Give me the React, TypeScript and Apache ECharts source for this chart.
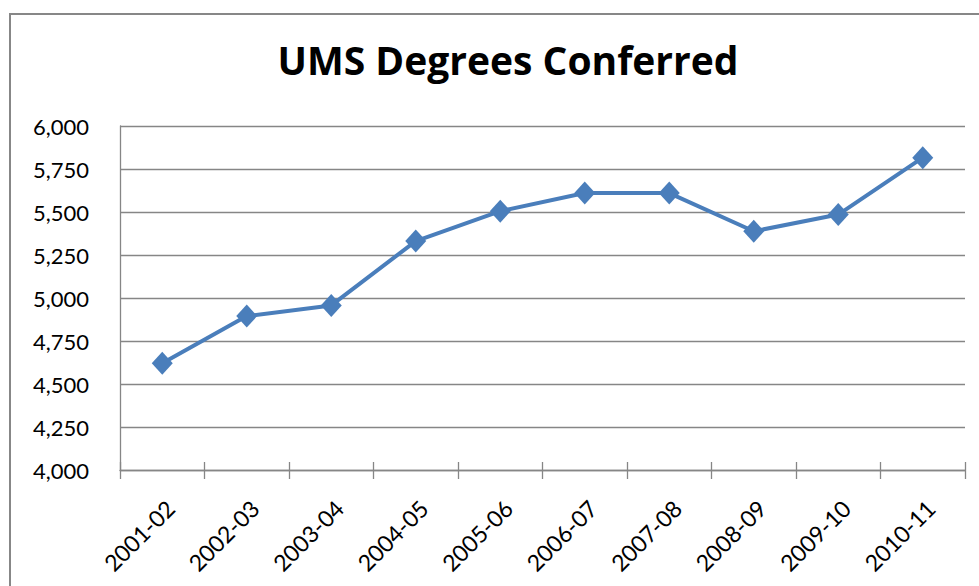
import React, { useEffect, useRef } from "react";
import * as echarts from "echarts";

const categories = ["2001-02", "2002-03", "2003-04", "2004-05", "2005-06", "2006-07", "2007-08", "2008-09", "2009-10", "2010-11"];
const degrees = [4620, 4895, 4957, 5331, 5505, 5610, 5610, 5388, 5485, 5816];
const titleText = "UMS Degrees Conferred";

export default function App() {
  const ref = useRef<HTMLDivElement>(null);
  useEffect(() => {
    document.body.style.margin = "0";
    document.body.style.overflow = "hidden";
    document.documentElement.style.overflow = "hidden";
    const chart = echarts.init(ref.current!, null, { renderer: "svg" });
    const font = "Lato, 'Open Sans', sans-serif";
    chart.setOption({
      animation: false,
      title: {
        text: titleText,
        left: 503,
        top: 35,
        textAlign: "center",
        textStyle: { fontFamily: "'Open Sans', sans-serif", fontWeight: "bold", fontSize: 39, color: "#000000" },
      },
      grid: { left: 120, right: 14, top: 126, bottom: 116, containLabel: false },
      xAxis: [
        {
          type: "category",
          data: categories,
          boundaryGap: true,
          axisLine: { show: true, lineStyle: { color: "#868686", width: 1.3 } },
          axisTick: { show: true, length: 9, lineStyle: { color: "#868686", width: 1.3 } },
          axisLabel: { rotate: 45, margin: 26, verticalAlign: "top", fontFamily: font, fontSize: 23, color: "#000000" },
          splitLine: { show: false },
        },
        {
          type: "category",
          data: categories,
          position: "bottom",
          boundaryGap: true,
          axisLine: { show: false },
          axisTick: { show: true, inside: true, length: 8, lineStyle: { color: "#868686", width: 1.3 } },
          axisLabel: { show: false },
          splitLine: { show: false },
        },
      ],
      yAxis: {
        type: "value",
        min: 4000,
        max: 6000,
        interval: 250,
        axisLine: { show: true, lineStyle: { color: "#868686", width: 1.3 } },
        axisTick: { show: false },
        axisLabel: {
          margin: 31,
          fontFamily: font,
          fontSize: 22,
          color: "#000000",
          formatter: (v: number) => v.toLocaleString("en-US"),
        },
        splitLine: { show: true, lineStyle: { color: "#868686", width: 1.3 } },
      },
      series: [
        {
          type: "line",
          xAxisIndex: 0,
          data: degrees,
          symbol: "diamond",
          symbolSize: [21, 23],
          lineStyle: { color: "#4A7EBB", width: 4 },
          itemStyle: { color: "#4A7EBB" },
        },
      ],
    });
    return () => chart.dispose();
  }, []);
  return (
    <div style={{ position: "relative", width: 979, height: 586, overflow: "hidden", background: "#ffffff" }}>
      <div style={{ position: "absolute", left: 9, top: 13, width: 2, height: 573, background: "#878787" }} />
      <div style={{ position: "absolute", left: 9, top: 13, width: 970, height: 2, background: "#878787" }} />
      <div ref={ref} style={{ position: "absolute", left: 0, top: 0, width: 979, height: 586 }} />
    </div>
  );
}
